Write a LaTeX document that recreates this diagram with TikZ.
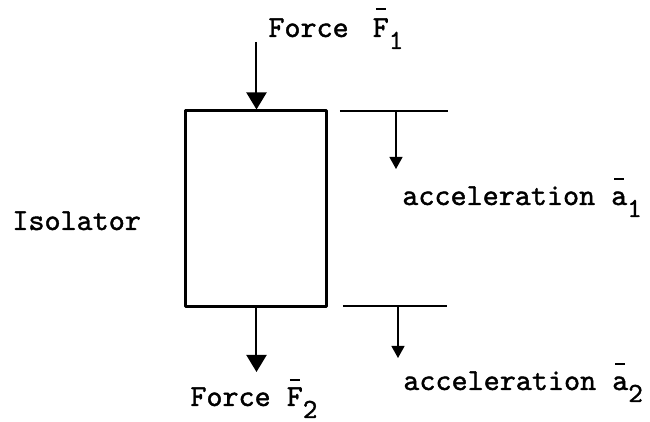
\documentclass[tikz,border=0pt]{standalone}
\usepackage{fontspec}
\usetikzlibrary{arrows.meta}
\newfontfamily\twfont[FakeBold=1.3]{lmmono10-regular.otf}
% 半行下げの添字と上線
\newcommand{\lowsub}[1]{\raisebox{-6pt}{\fontsize{13.8}{16}\twfont #1}}
\newcommand{\ovbar}[2]{\makebox[0pt][l]{\makebox[0.525em][c]{\rule[#2]{5pt}{0.9pt}}}#1}
\begin{document}
\begin{tikzpicture}[x=0.5pt, y=-0.5pt, line join=round,
    every node/.style={font=\fontsize{15.3}{18}\twfont, inner sep=0pt},
    force/.style={-{Triangle[width=10pt, length=8.5pt]}, line width=1pt},
    accel/.style={-{Triangle[width=6.5pt, length=6pt]}, line width=0.6pt},
    level/.style={line width=0.6pt}]

    \useasboundingbox (0, 0) rectangle (650, 422);

    % 隔振体
    \node[draw, line width=1.5pt, minimum width=70.5pt, minimum height=98pt] (iso) at (256.5, 209) {};
    \node[anchor=base west] (isolab) at (12, 230) {Isolator};

    % 上下の力
    \coordinate (f1s) at (256.5, 42);
    \coordinate (f2e) at (256.5, 372);
    \draw[force] (f1s) -- (iso.north);
    \draw[force] (iso.south) -- (f2e);
    \node[anchor=base west] (f1lab) at (268, 37) {Force\hspace{4pt} \ovbar{F}{13.5pt}\lowsub{1}};
    \node[anchor=base west] (f2lab) at (190, 406) {Force \ovbar{F}{12.5pt}\lowsub{2}};

    % 加速度 (上端)
    \coordinate (a1l) at (340, 111);
    \coordinate (a1r) at (448, 111);
    \coordinate (a1s) at (396, 111);
    \coordinate (a1e) at (396, 169);
    \draw[level] (a1l) -- (a1r);
    \draw[accel] (a1s) -- (a1e);
    \node[anchor=base west] (a1lab) at (402, 205) {acceleration \ovbar{a}{12.5pt}\lowsub{1}};

    % 加速度 (下端)
    \coordinate (a2l) at (343, 306);
    \coordinate (a2r) at (447, 306);
    \coordinate (a2s) at (398, 306);
    \coordinate (a2e) at (398, 358);
    \draw[level] (a2l) -- (a2r);
    \draw[accel] (a2s) -- (a2e);
    \node[anchor=base west] (a2lab) at (403, 390) {acceleration \ovbar{a}{12.5pt}\lowsub{2}};

\end{tikzpicture}
\end{document}
